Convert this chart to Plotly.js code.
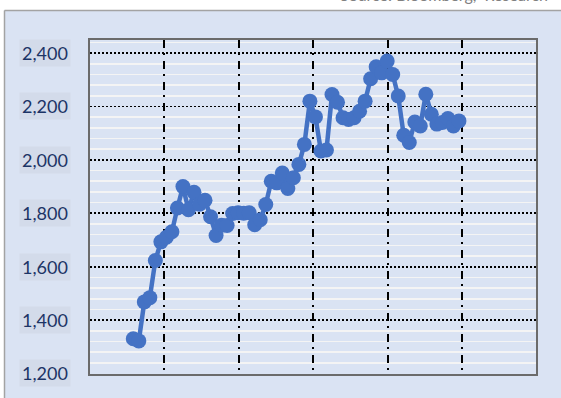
<!DOCTYPE html>
<html>
<head>
<meta charset="utf-8">
<script src="https://cdn.plot.ly/plotly-3.0.1.min.js"></script>
<style>html,body{margin:0;padding:0;background:#fff;}#chart{width:561px;height:398px;}</style>
</head>
<body>
<div id="chart"></div>
<script>
// Period index (weekly observations)
const periods = [0,1,2,3,4,5,6,7,8,9,10,11,12,13,14,15,16,17,18,19,
  20,21,22,23,24,25,26,27,28,29,30,31,32,33,34,35,36,37,38,39,
  40,41,42,43,44,45,46,47,48,49,50,51,52,53,54,55,56,57,58,59];
// Series values
const values = [1330,1322,1468,1484,1623,1693,1710,1731,1820,1900,
  1813,1879,1834,1849,1787,1717,1755,1754,1799,1802,
  1800,1802,1757,1776,1833,1920,1914,1951,1893,1933,
  1983,2058,2220,2161,2033,2037,2245,2216,2158,2151,
  2158,2182,2220,2304,2349,2326,2370,2320,2239,2092,
  2065,2142,2127,2246,2171,2134,2140,2155,2127,2146];
// Y tick labels
const yTickVals = [1200,1400,1600,1800,2000,2200,2400];
const yTickText = ['1,200','1,400','1,600','1,800','2,000','2,200','2,400'];

const W = 561, H = 398;
const m = {l: 90, r: 25, t: 40, b: 24};
const pw = W - m.l - m.r, ph = H - m.t - m.b;
const px = x => (x - m.l) / pw;         // pixel -> paper x
const py = y => (H - m.b - y) / ph;     // pixel -> paper y

const annotations = yTickVals.map((v, i) => ({
  xref: 'paper', yref: 'y', x: px(71), y: v, xanchor: 'right', yanchor: 'middle',
  text: yTickText[i], showarrow: false, bgcolor: '#d3dbea', borderpad: 2,
  font: {family: 'Lato, "Open Sans", sans-serif', size: 18, color: '#1c3466'}
}));
annotations.push({
  xref: 'paper', yref: 'paper', x: px(550), y: py(6.5), xanchor: 'right', yanchor: 'bottom',
  text: 'Source: Bloomberg,  Research', showarrow: false,
  font: {family: 'Lato, sans-serif', size: 16, color: '#808080'}
});

const shapes = [
  // white strips outside the chart frame
  {type: 'rect', xref: 'paper', yref: 'paper', x0: px(-5), x1: px(570), y0: py(10), y1: py(-10),
   fillcolor: '#ffffff', line: {width: 0}, layer: 'below'},
  {type: 'rect', xref: 'paper', yref: 'paper', x0: px(-5), x1: px(4), y0: py(410), y1: py(-10),
   fillcolor: '#ffffff', line: {width: 0}, layer: 'below'},
  // frame border
  {type: 'line', xref: 'paper', yref: 'paper', x0: px(4.5), x1: px(570), y0: py(10.5), y1: py(10.5),
   line: {color: '#a3a3a3', width: 1.5}, layer: 'below'},
  {type: 'line', xref: 'paper', yref: 'paper', x0: px(4.5), x1: px(4.5), y0: py(10.5), y1: py(410),
   line: {color: '#a3a3a3', width: 1.5}, layer: 'below'}
];

const trace = {
  x: periods, y: values, type: 'scatter', mode: 'lines+markers',
  line: {color: '#4472c4', width: 4.5},
  marker: {color: '#4472c4', size: 15},
  hoverinfo: 'skip', cliponaxis: false
};

const layout = {
  width: W, height: H, margin: m,
  paper_bgcolor: '#dae3f3', plot_bgcolor: '#dae3f3',
  showlegend: false,
  xaxis: {
    range: [-7.84, 72.96], side: 'top',
    tickmode: 'linear', tick0: 5.65, dtick: 13.48,
    showticklabels: false, ticks: 'inside', ticklen: 7, tickwidth: 2, tickcolor: '#000',
    showgrid: true, gridcolor: '#000', gridwidth: 2, griddash: '8px,5px,2px,6px',
    zeroline: false, showline: true, linecolor: '#6b6b6b', linewidth: 2, mirror: true
  },
  yaxis: {
    range: [1198, 2449],
    tickmode: 'linear', tick0: 1200, dtick: 200,
    showticklabels: false, ticks: '',
    showgrid: true, gridcolor: '#000', gridwidth: 1.8, griddash: '2px,2px',
    minor: {tickmode: 'linear', tick0: 1200, dtick: 40, showgrid: true, gridcolor: '#f4f4f4',
            gridwidth: 1.6, griddash: 'solid', ticks: ''},
    zeroline: false, showline: true, linecolor: '#6b6b6b', linewidth: 2, mirror: true
  },
  annotations: annotations,
  shapes: shapes
};

Plotly.newPlot('chart', [trace], layout, {displayModeBar: false, staticPlot: true});
</script>
</body>
</html>
